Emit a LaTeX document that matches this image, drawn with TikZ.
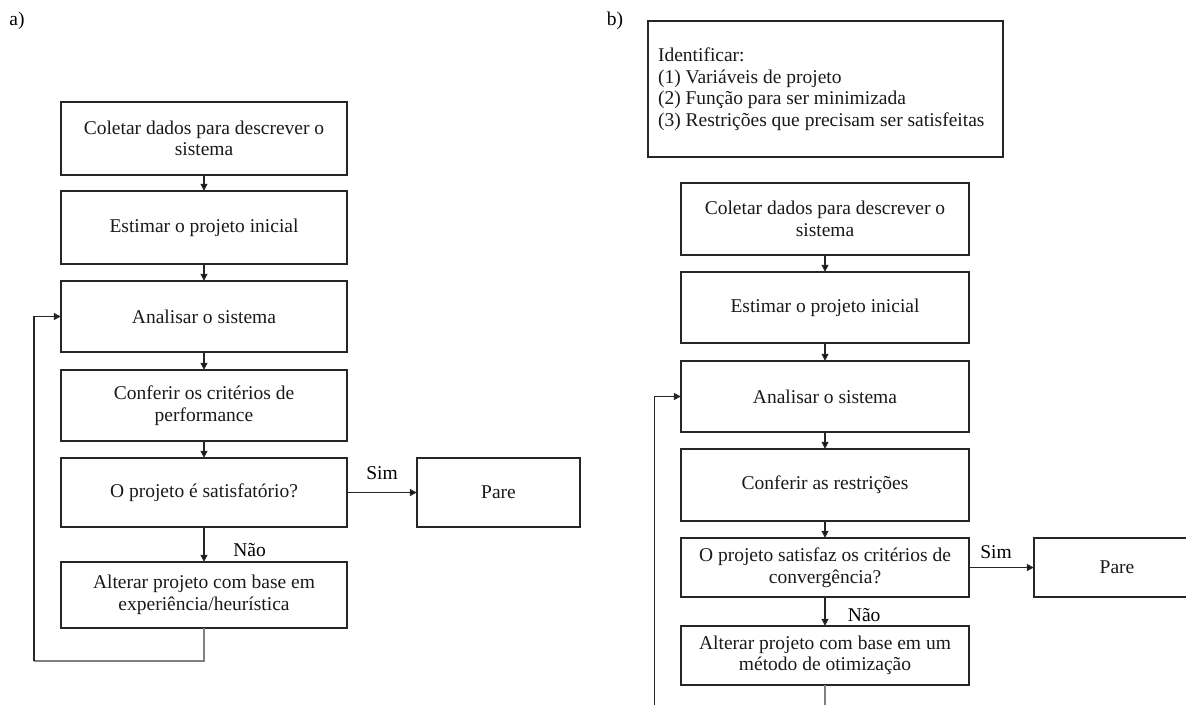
\documentclass[tikz,border=0pt]{standalone}
\usepackage{fontspec}
\setmainfont{Liberation Serif}
\usetikzlibrary{arrows.meta}

\begin{document}
\begin{tikzpicture}[x=0.5pt,y=-0.5pt,font=\fontsize{9.75pt}{10.75pt}\selectfont,
	caixa/.style={draw=black!85,line width=0.8pt,inner sep=0pt,outer sep=0pt,align=flush center,text=black!90},
	seta/.style={-{Triangle[length=3.6pt,width=3.4pt]},draw=black!85,line width=0.75pt},
	volta/.style={draw=black!50,line width=0.9pt}]
	\useasboundingbox (0,0) rectangle (1186,705);
	\clip (0,0) rectangle (1186,705);

	\node (rotA) at (17,21) {a)};
	\node (rotB) at (615,21) {b)};

	\node[caixa,minimum width=143pt,minimum height=36.5pt] (a1) at (204,138.5) {Coletar dados para descrever o\\sistema};
	\node[caixa,minimum width=143pt,minimum height=36.5pt] (a2) at (204,227.5) {Estimar o projeto inicial};
	\node[caixa,minimum width=143pt,minimum height=35.5pt] (a3) at (204,316.5) {Analisar o sistema};
	\node[caixa,minimum width=143pt,minimum height=35.5pt] (a4) at (204,405.5) {Conferir os critérios de\\performance};
	\node[caixa,minimum width=143pt,minimum height=34.5pt] (a5) at (204,492.5) {O projeto é satisfatório?};
	\node[caixa,minimum width=143pt,minimum height=33pt] (a6) at (204,595) {Alterar projeto com base em\\experiência/heurística};
	\node[caixa,minimum width=81.5pt,minimum height=34.5pt] (aP) at (498.5,492.5) {Pare};
	\coordinate (cantoA) at (34,661);

	\node[caixa,align=flush left,text width=167.5pt,inner xsep=5pt,minimum height=68pt] (bI) at (825.5,89) {Identificar:\\(1) Variáveis de projeto\\(2) Função para ser minimizada\\(3) Restrições que precisam ser satisfeitas};
	\node[caixa,minimum width=144pt,minimum height=36pt] (b1) at (825,219) {Coletar dados para descrever o\\sistema};
	\node[caixa,minimum width=144pt,minimum height=35.5pt] (b2) at (825,307.5) {Estimar o projeto inicial};
	\node[caixa,minimum width=144pt,minimum height=35.5pt] (b3) at (825,396.5) {Analisar o sistema};
	\node[caixa,minimum width=144pt,minimum height=36pt] (b4) at (825,485) {Conferir as restrições};
	\node[caixa,minimum width=144pt,minimum height=29.5pt] (b5) at (825,567.5) {O projeto satisfaz os critérios de\\convergência?};
	\node[caixa,minimum width=144pt,minimum height=29.5pt] (b6) at (825,655.5) {Alterar projeto com base em um\\método de otimização};
	\node[caixa,minimum width=83pt,minimum height=29.5pt] (bP) at (1117,567.5) {Pare};
	\coordinate (cantoB) at (654.5,730);

	\path[seta] (a1) edge (a2);
	\path[seta] (a2) edge (a3);
	\path[seta] (a3) edge (a4);
	\path[seta] (a4) edge (a5);
	\path[seta] (a5) edge node[midway,above,yshift=2.5pt]{Sim} (aP);
	\path[seta] (a5) edge node[midway,right=11pt,yshift=-2.75pt]{Não} (a6);
	\draw[volta] (a6.south) |- (cantoA);
	\draw[seta] (cantoA) |- (a3.west);

	\path[seta] (b1) edge (b2);
	\path[seta] (b2) edge (b3);
	\path[seta] (b3) edge (b4);
	\path[seta] (b4) edge (b5);
	\path[seta] (b5) edge node[midway,above,xshift=-2.75pt,yshift=0.75pt]{Sim} (bP);
	\path[seta] (b5) edge node[midway,right=7.75pt,yshift=-1.75pt]{Não} (b6);
	\draw[volta] (b6.south) |- (cantoB);
	\draw[seta] (cantoB) |- (b3.west);
\end{tikzpicture}
\end{document}
